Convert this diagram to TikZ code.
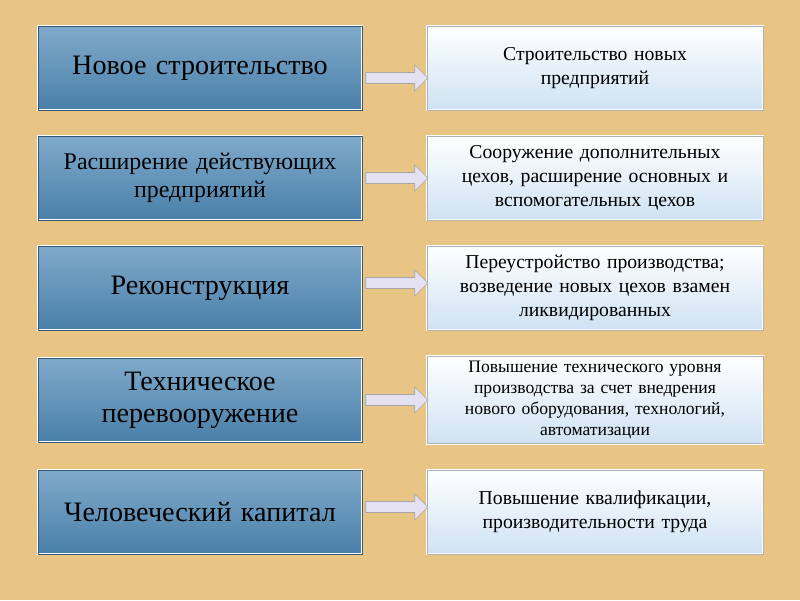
\documentclass[tikz,border=0pt]{standalone}
\usepackage{fontspec}
\setmainfont{Liberation Serif}
\usetikzlibrary{shapes.arrows}
\definecolor{canvas}{HTML}{E8C584}
\definecolor{steel}{HTML}{4A7FA8}
\definecolor{steellight}{HTML}{7FAACB}
\definecolor{paleblue}{HTML}{CFE2F3}
\definecolor{arrowfill}{HTML}{E4E2F2}
\tikzset{
  kind/.style={draw=white,double=steel!70!black,double distance=0.6pt,
    top color=steellight,bottom color=steel,minimum width=324*0.025cm,
    minimum height=84*0.025cm,align=center,text width=7.6cm,font=\fontsize{20}{23}\selectfont},
  what/.style={draw=white,double=gray!60,double distance=0.6pt,
    top color=white,bottom color=paleblue,minimum width=336*0.025cm,
    minimum height=84*0.025cm,align=center,text width=8cm,font=\fontsize{14}{17}\selectfont},
  link/.style={single arrow,draw=gray!70,fill=arrowfill,minimum height=62*0.025cm,
    minimum width=26*0.025cm,single arrow head extend=3pt,inner sep=2pt}
}
\begin{document}
\begin{tikzpicture}[x=0.025cm,y=-0.025cm]
\fill[canvas] (0,0) rectangle (800,600);

% left column
\node[kind] (k1) at (200,68) {Новое строительство};
\node[kind,font=\fontsize{17}{20}\selectfont] (k2) at (200,178) {Расширение действующих\\предприятий};
\node[kind] (k3) at (200,288) {Реконструкция};
\node[kind] (k4) at (200,400) {Техническое\\перевооружение};
\node[kind] (k5) at (200,512) {Человеческий капитал};

% right column
\node[what] (w1) at (595,68) {Строительство новых\\предприятий};
\node[what] (w2) at (595,178) {Сооружение дополнительных\\цехов, расширение основных и\\вспомогательных цехов};
\node[what] (w3) at (595,288) {Переустройство производства;\\возведение новых цехов взамен\\ликвидированных};
\node[what,font=\fontsize{12.5}{15}\selectfont] (w4) at (595,400) {Повышение технического уровня\\производства за счет внедрения\\нового оборудования, технологий,\\автоматизации};
\node[what] (w5) at (595,512) {Повышение квалификации,\\производительности труда};

% arrows
\foreach \i/\y in {1/78,2/178,3/283,4/400,5/507}
  \node[link] (a\i) at (394,\y) {};
\end{tikzpicture}
\end{document}
